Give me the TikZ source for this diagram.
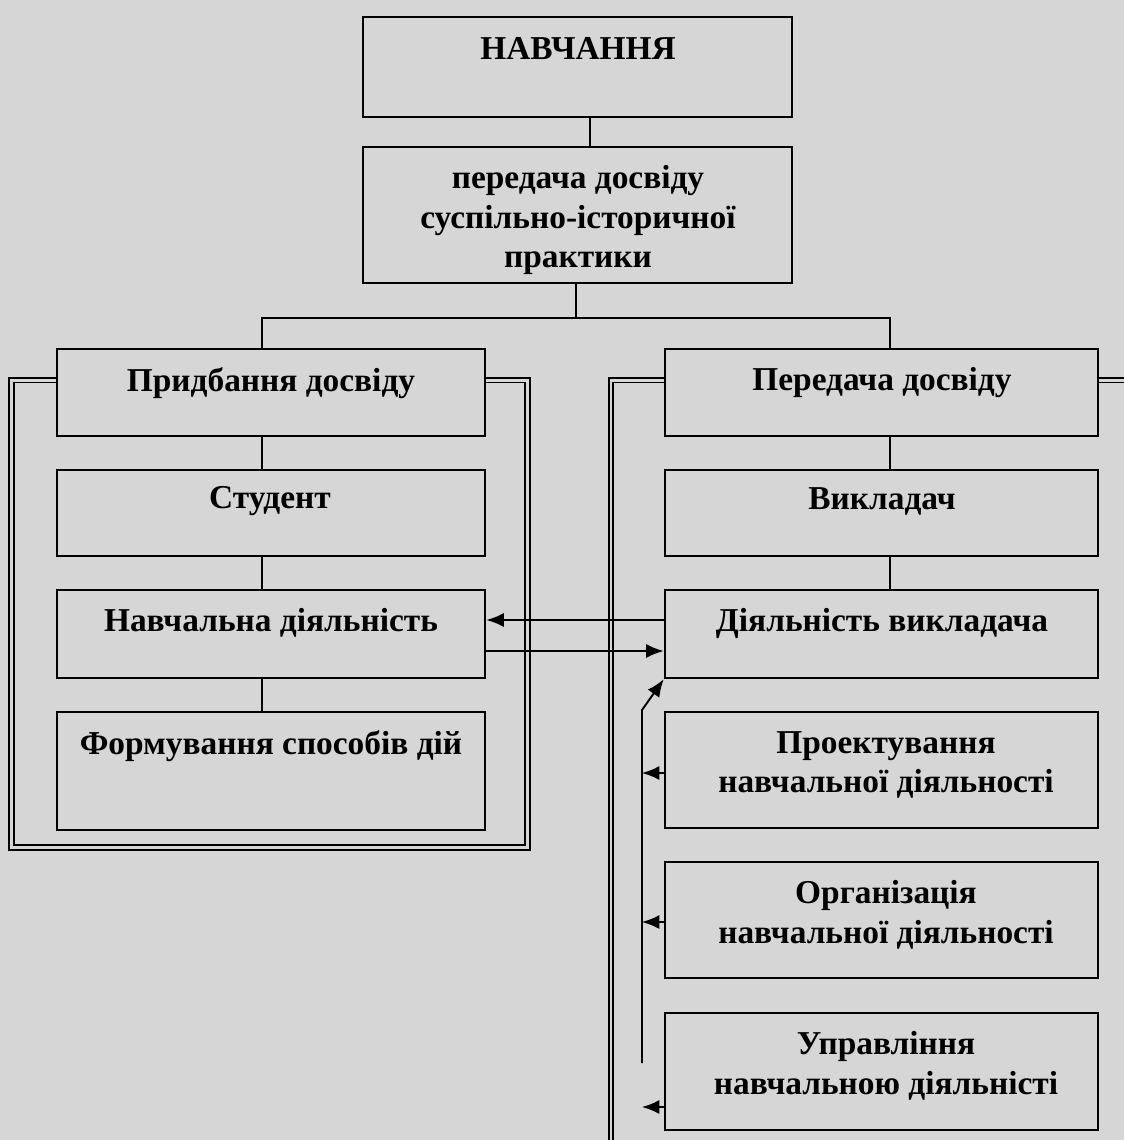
\documentclass[tikz,border=0pt]{standalone}
\usepackage{fontspec}
\setmainfont{Liberation Serif}
\usetikzlibrary{arrows.meta}
\definecolor{bgcol}{HTML}{D6D6D6}
\def\pxu{0.02cm}
\begin{document}
\begin{tikzpicture}[x=0.02cm,y=-0.02cm,
  box/.style={draw=black, line width=1.4pt, fill=none, inner sep=0pt},
  txt/.style={align=center, font=\fontsize{19}{22.7}\selectfont\bfseries, inner sep=0pt},
  conn/.style={draw=black, line width=1.1pt},
  dbl/.style={draw=black, line width=1.05pt, double=bgcol, double distance=1.7pt},
  tip/.style={-{Latex[length=10pt,width=8pt]}},
  arr/.style={draw=black, line width=1.2pt, tip},
  thin/.style={draw=black, line width=1.1pt}]
\fill[bgcol] (0,0) rectangle (1124,1140);
\useasboundingbox (0,0) rectangle (1124,1140);
% boxes
\node[box, minimum width=429*\pxu, minimum height=100*\pxu] (top) at (577.5,67) {};
\node[box, minimum width=429*\pxu, minimum height=136*\pxu] (mid) at (577.5,215) {};
\node[box, minimum width=428*\pxu, minimum height=87*\pxu] (L1) at (271,392.5) {};
\node[box, minimum width=433*\pxu, minimum height=87*\pxu] (R1) at (881.5,392.5) {};
\node[box, minimum width=428*\pxu, minimum height=86*\pxu] (L2) at (271,513) {};
\node[box, minimum width=433*\pxu, minimum height=86*\pxu] (R2) at (881.5,513) {};
\node[box, minimum width=428*\pxu, minimum height=88*\pxu] (L3) at (271,634) {};
\node[box, minimum width=433*\pxu, minimum height=88*\pxu] (R3) at (881.5,634) {};
\node[box, minimum width=428*\pxu, minimum height=118*\pxu] (L4) at (271,771) {};
\node[box, minimum width=433*\pxu, minimum height=116*\pxu] (R4) at (881.5,770) {};
\node[box, minimum width=433*\pxu, minimum height=116*\pxu] (R5) at (881.5,920) {};
\node[box, minimum width=433*\pxu, minimum height=117*\pxu] (R6) at (881.5,1071.5) {};
% texts
\node[txt] (ttop) at (578,49) {НАВЧАННЯ};
\node[txt] (tmid) at (578,220) {передача досвіду\\суспільно-історичної\\практики};
\node[txt] (tL1) at (271,383) {Придбання досвіду};
\node[txt] (tR1) at (882,383) {Передача досвіду};
\node[txt] (tL2) at (270,501) {Студент};
\node[txt] (tR2) at (882,501) {Викладач};
\node[txt] (tL3) at (271,623) {Навчальна діяльність};
\node[txt] (tR3) at (882,623) {Діяльність викладача};
\node[txt] (tL4) at (271,746) {Формування способів дій};
\node[txt] (tR4) at (886,765) {Проектування\\навчальної діяльності};
\node[txt] (tR5) at (886,915) {Організація\\навчальної діяльності};
\node[txt] (tR6) at (886,1066) {Управління\\навчальною діяльністі};
% coordinates
\coordinate (c1) at (590,0);
\coordinate (c2) at (576,318);
\coordinate (cl) at (262,0);
\coordinate (cr) at (890,0);
\coordinate (hb) at (0,318);
% tree connectors
\draw[conn] (top.south -| c1) -- (mid.north -| c1);
\draw[conn] (mid.south -| c2) -- (c2);
\draw[conn] (L1.north -| cl) -- (hb -| cl) -- (hb -| cr) -- (R1.north -| cr);
\draw[conn] (L1.south -| cl) -- (L2.north -| cl);
\draw[conn] (L2.south -| cl) -- (L3.north -| cl);
\draw[conn] (L3.south -| cl) -- (L4.north -| cl);
\draw[conn] (R1.south -| cr) -- (R2.north -| cr);
\draw[conn] (R2.south -| cr) -- (R3.north -| cr);
% double brackets
\coordinate (dl1) at (11.5,380);
\coordinate (dl2) at (11.5,847.5);
\coordinate (dl3) at (527.5,847.5);
\coordinate (dl4) at (527.5,380);
\draw[dbl] (L1.west |- dl1) -- (dl1) -- (dl2) -- (dl3) -- (dl4) -- (L1.east |- dl4);
\coordinate (dr1) at (611,380);
\coordinate (dr2) at (611,1145);
\coordinate (dr3) at (1130,380);
\draw[dbl] (R1.west |- dr1) -- (dr1) -- (dr2);
\draw[dbl] (R1.east |- dr3) -- (dr3);
% exchange arrows
\draw[arr] ([yshift=14*\pxu]R3.west) -- ([yshift=14*\pxu]L3.east);
\draw[arr] ([yshift=-17*\pxu]L3.east) -- ([yshift=-17*\pxu]R3.west);
% feedback line
\coordinate (fb0) at (642,1063);
\coordinate (fb1) at (642,710);
\draw[thin, tip] (fb0) -- (fb1) -- (R3.south west);
\draw[arr] ([yshift=-3*\pxu]R4.west) -- ++(-22,0);
\draw[arr] ([yshift=-2*\pxu]R5.west) -- ++(-22,0);
\draw[arr] ([yshift=-35.5*\pxu]R6.west) -- ++(-22,0);
\end{tikzpicture}
\end{document}
